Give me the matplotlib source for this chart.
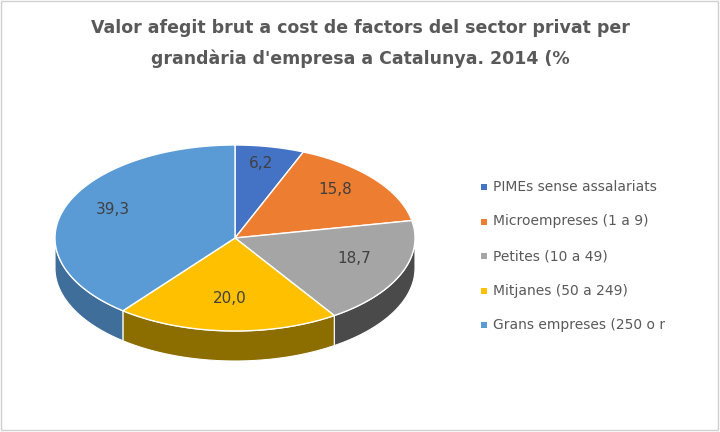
import numpy as np
import matplotlib.pyplot as plt
from matplotlib.patches import Polygon, Rectangle

labels = ["PIMEs sense assalariats", "Microempreses (1 a 9)", "Petites (10 a 49)",
          "Mitjanes (50 a 249)", "Grans empreses (250 o més)"]
values = [6.2, 15.8, 18.7, 20.0, 39.3]
colors = ["#4472C4", "#ED7D31", "#A5A5A5", "#FFC000", "#5B9BD5"]
side_colors = ["#2F5597", "#A85520", "#4A4A4A", "#8C6D00", "#3F6E9A"]

fig = plt.figure(figsize=(7.2, 4.32), dpi=100)
ax = fig.add_axes([0, 0, 1, 1])
ax.set_xlim(0, 720)
ax.set_ylim(432, 0)
ax.axis("off")
ax.add_patch(Rectangle((1, 1), 717, 429, fill=False, ec="#D0D0D0", lw=1))

fig.text(0.5, 0.935, "Valor afegit brut a cost de factors del sector privat per",
         ha="center", va="center", fontsize=12.5, fontweight="bold", color="#595959")
fig.text(0.5, 0.865, "grandària d'empresa a Catalunya. 2014 (%",
         ha="center", va="center", fontsize=12.5, fontweight="bold", color="#595959")

cx, cy, rx, ry, depth = 235, 238, 180, 93, 30

def pt(t):
    return cx + rx * np.cos(t), cy - ry * np.sin(t)

total = sum(values)
start = 90.0
slices = []
for v in values:
    end = start - 360 * v / total
    slices.append((start, end))
    start = end

# sides
for (a1, a2), sc in zip(slices, side_colors):
    t = np.radians(np.linspace(a2, a1, 200))
    t = t[np.sin(t) <= 0]
    if len(t) < 2:
        continue
    x, y = pt(t)
    xs = np.concatenate([x, x[::-1]])
    ys = np.concatenate([y, y[::-1] + depth])
    ax.add_patch(Polygon(np.column_stack([xs, ys]), fc=sc, ec="white", lw=0.8))

# tops
for (a1, a2), c, v in zip(slices, colors, values):
    t = np.radians(np.linspace(a1, a2, 200))
    x, y = pt(t)
    xy = np.vstack([[cx, cy], np.column_stack([x, y])])
    ax.add_patch(Polygon(xy, fc=c, ec="white", lw=1))
    m = np.radians((a1 + a2) / 2)
    r = 0.72 if v > 10 else 0.75
    lx, ly = cx + r * rx * np.cos(m), cy - r * ry * np.sin(m) - 6
    ax.text(lx, ly, f"{v:.1f}".replace(".", ","), ha="center", va="center",
            fontsize=11, color="#404040")

# legend in its own axes, clipped at the right edge
lax = fig.add_axes([470 / 720, 0.2, (665 - 470) / 720, 0.6])
lax.set_xlim(470, 665)
lax.set_ylim(432 * 0.8, 432 * 0.2)
lax.axis("off")
for i, (lab, c) in enumerate(zip(labels, colors)):
    y = 187 + i * 34.5
    lax.add_patch(Rectangle((481, y - 3), 6, 6, fc=c, ec="none"))
    lax.text(493, y, lab, ha="left", va="center", fontsize=10, color="#595959",
             clip_on=True)

fig.savefig("out.png", dpi=100)
